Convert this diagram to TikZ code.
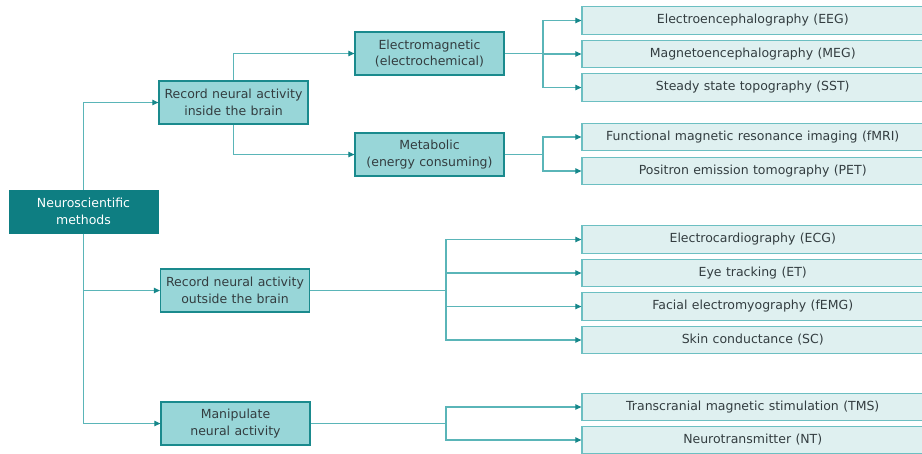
\documentclass[tikz,border=0pt]{standalone}
\usepackage{fontspec}
\setmainfont[WordSpace=1.1]{DejaVu Sans}
\usetikzlibrary{arrows.meta}

\definecolor{rootfill}{HTML}{0E7E82}
\definecolor{midfill}{HTML}{98D6D8}
\definecolor{midline}{HTML}{1A8A8D}
\definecolor{leaffill}{HTML}{DFF0F0}
\definecolor{leafline}{HTML}{6CBFC2}
\definecolor{wire}{HTML}{5AB5B8}
\definecolor{tipcol}{HTML}{16878A}
\definecolor{ink}{HTML}{333D40}

\tikzset{
  txt/.style={font=\fontsize{12.5}{16.7}\selectfont, align=center, inner sep=0pt},
  rootbox/.style={txt, fill=rootfill, draw=rootfill, line width=1pt, text=white,
    minimum width=149pt, minimum height=43pt},
  midbox/.style={txt, fill=midfill, draw=midline, line width=1.3pt, text=ink,
    minimum width=149pt, minimum height=43pt},
  leafbox/.style={txt, fill=leaffill, draw=leafline, line width=1.3pt, text=ink,
    minimum width=341.5pt, minimum height=27.5pt},
  wireline/.style={draw=wire, line width=1.1pt},
  arr/.style={wireline, -{Triangle[length=6pt,width=5.5pt,color=tipcol]}}
}

\begin{document}
\begin{tikzpicture}[x=1pt,y=-1pt]
  \useasboundingbox[fill=white] (0,0) rectangle (922,453);

  % main categories
  \node[rootbox] (root) at (83.5,211.5) {Neuroscientific\\methods};
  \node[midbox] (inside) at (233.5,102.5) {Record neural activity\\inside the brain};
  \node[midbox] (outside) at (235,290.5) {Record neural activity\\outside the brain};
  \node[midbox] (manip) at (235.5,423.5) {Manipulate\\neural activity};

  % signal types
  \node[midbox] (em) at (429.5,53.5) {Electromagnetic\\(electrochemical)};
  \node[midbox] (met) at (429.5,154.5) {Metabolic\\(energy consuming)};

  % methods
  \node[leafbox] (eeg) at (752.75,20.5) {Electroencephalography (EEG)};
  \node[leafbox] (meg) at (752.75,54) {Magnetoencephalography (MEG)};
  \node[leafbox] (sst) at (752.75,87.5) {Steady state topography (SST)};
  \node[leafbox] (fmri) at (752.75,137) {Functional magnetic resonance imaging (fMRI)};
  \node[leafbox] (pet) at (752.75,171) {Positron emission tomography (PET)};
  \node[leafbox] (ecg) at (752.75,239.5) {Electrocardiography (ECG)};
  \node[leafbox] (et) at (752.75,273) {Eye tracking (ET)};
  \node[leafbox] (femg) at (752.75,306.5) {Facial electromyography (fEMG)};
  \node[leafbox] (sc) at (752.75,340) {Skin conductance (SC)};
  \node[leafbox] (tms) at (752.75,407) {Transcranial magnetic stimulation (TMS)};
  \node[leafbox] (nt) at (752.75,440) {Neurotransmitter (NT)};

  % fork points
  \coordinate (emfork) at (543,53.5);
  \coordinate (metfork) at (543,154.5);
  \coordinate (outfork) at (446,290.5);
  \coordinate (manfork) at (446,423.5);

  % trunk
  \draw[arr] (root.north) |- (inside.west);
  \draw[arr] (root.south) |- (outside.west);
  \draw[arr] (root.south) |- (manip.west);

  % inside the brain
  \draw[arr] (inside.north) |- (em.west);
  \draw[arr] (inside.south) |- (met.west);

  % electromagnetic methods
  \draw[wireline] (em.east) -- (emfork);
  \draw[arr] (emfork) |- (eeg.west);
  \draw[arr] (emfork) |- (meg.west);
  \draw[arr] (emfork) |- (sst.west);

  % metabolic methods
  \draw[wireline] (met.east) -- (metfork);
  \draw[arr] (metfork) |- (fmri.west);
  \draw[arr] (metfork) |- (pet.west);

  % outside the brain
  \draw[wireline] (outside.east) -- (outfork);
  \draw[arr] (outfork) |- (ecg.west);
  \draw[arr] (outfork) |- (et.west);
  \draw[arr] (outfork) |- (femg.west);
  \draw[arr] (outfork) |- (sc.west);

  % manipulation
  \draw[wireline] (manip.east) -- (manfork);
  \draw[arr] (manfork) |- (tms.west);
  \draw[arr] (manfork) |- (nt.west);
\end{tikzpicture}
\end{document}
